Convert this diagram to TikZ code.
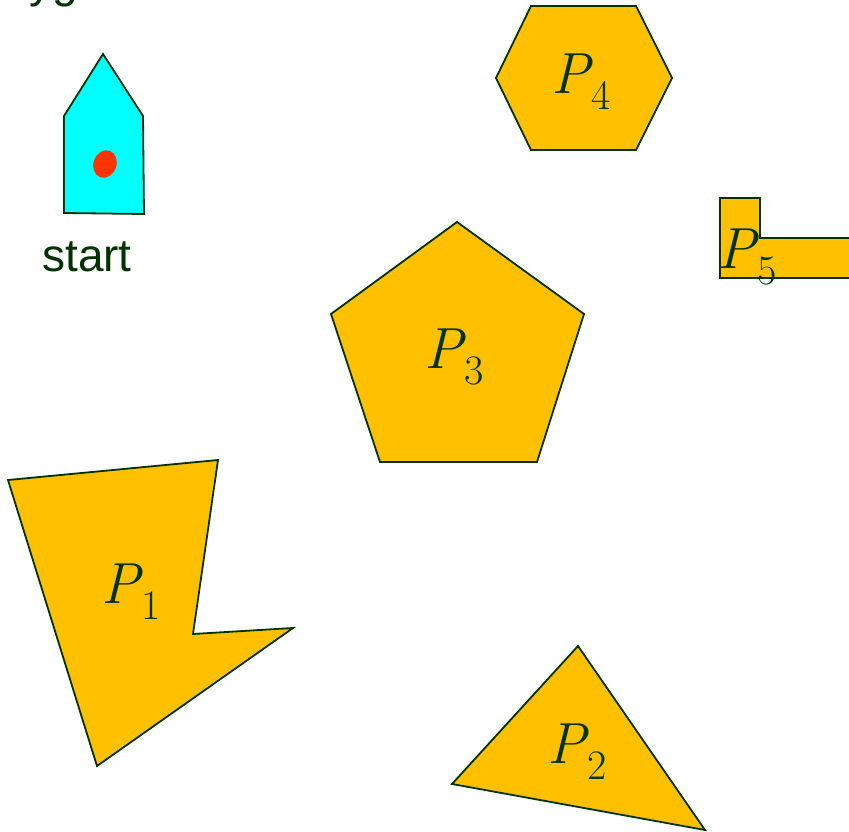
\documentclass[tikz,border=0pt]{standalone}
\usepackage{fontspec}
\newfontfamily\arialf{Liberation Sans}
\definecolor{dkgreen}{RGB}{0,51,0}
\definecolor{gold}{RGB}{255,192,0}
\definecolor{dotred}{RGB}{255,51,0}
\definecolor{aqua}{RGB}{0,255,255}
\newcommand\plab[1]{{\itshape P}\kern0.02em\raisebox{-0.28em}{\fontsize{42}{42}\selectfont #1}}
\tikzset{
  poly/.style={draw=dkgreen, fill=gold, line width=1.8pt, line join=miter},
  house/.style={draw=dkgreen, fill=aqua, line width=1.8pt},
  plabel/.style={text=dkgreen, font=\fontsize{58}{60}\selectfont, inner sep=0pt},
  tlabel/.style={text=dkgreen, font=\arialf\fontsize{46}{48}\selectfont, inner sep=0pt}
}
\begin{document}
\begin{tikzpicture}[x=1pt,y=-1pt]
\useasboundingbox (0,0) rectangle (849,832);
% clipped title text at top
\node[tlabel, anchor=base west] (title) at (-37,-2) {Polygons};
% start house
\draw[house] (103,54) -- (143,116) -- (144,214) -- (64,213) -- (64,116) -- cycle;
\fill[dotred, rotate around={-20:(105,164)}] (105,164) ellipse (11.5 and 14);
\node[tlabel, anchor=base] (start) at (87,271) {start};
% P4 hexagon
\draw[poly] (531,6) -- (636,6) -- (672,78) -- (636,150) -- (531,150) -- (496,78) -- cycle;
\node[plabel] (p4) at (581,82) {\plab{4}};
% P5
\draw[poly] (720,198) -- (760,198) -- (760,238) -- (860,238) -- (860,278) -- (720,278) -- cycle;
\node[plabel] (p5) at (747,257) {\plab{5}};
% P3 pentagon
\draw[poly] (457,222) -- (584,314) -- (537,462) -- (380,462) -- (331,314) -- cycle;
\node[plabel] (p3) at (454,357) {\plab{3}};
% P1
\draw[poly] (8,480) -- (218,460) -- (193,634) -- (293,628) -- (97,766) -- cycle;
\node[plabel] (p1) at (131,592) {\plab{1}};
% P2
\draw[poly] (578,646) -- (705,830) -- (452,784) -- cycle;
\node[plabel] (p2) at (577,752) {\plab{2}};
\end{tikzpicture}
\end{document}
